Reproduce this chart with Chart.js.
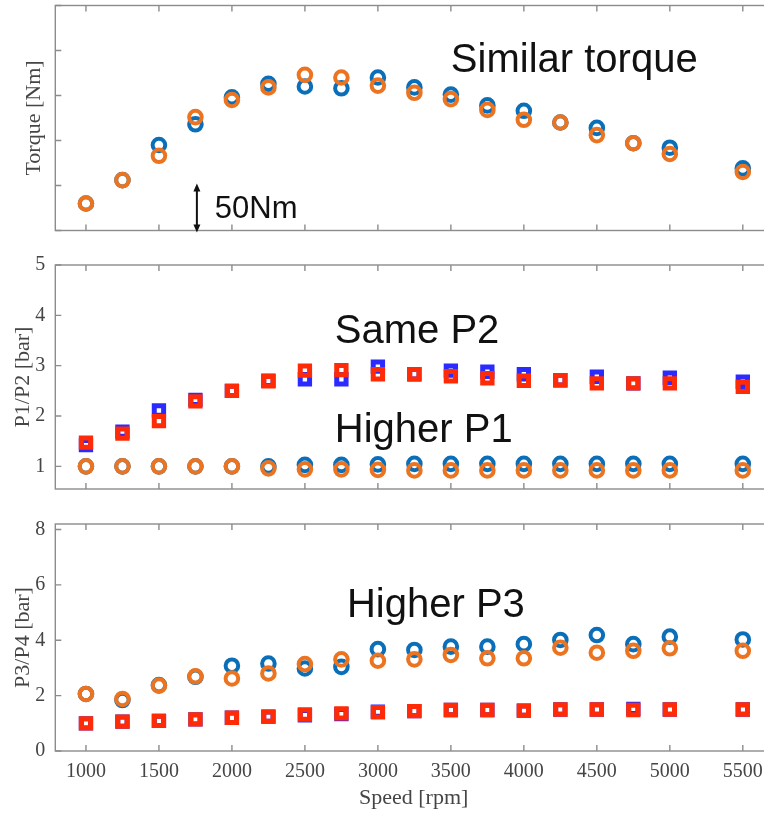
<!DOCTYPE html>
<html>
<head>
<meta charset="utf-8">
<script src="https://cdn.jsdelivr.net/npm/chart.js@4.4.1/dist/chart.umd.min.js"></script>
<style>
  html, body { margin: 0; padding: 0; overflow: hidden; background: #fff; width: 764px; height: 814px; }
  #wrap { width: 772px; height: 814px; }
  canvas { display: block; }
</style>
</head>
<body>
<div id="wrap">
  <canvas id="torque" width="772" height="250" style="width:772px;height:250px"></canvas>
  <canvas id="p12" width="772" height="250" style="width:772px;height:250px"></canvas>
  <canvas id="p34" width="772" height="314" style="width:772px;height:314px"></canvas>
</div>
<script>
// Engine speed sweep (rpm)
const speed = [1000, 1250, 1500, 1750, 2000, 2250, 2500, 2750, 3000, 3250, 3500, 3750, 4000, 4250, 4500, 4750, 5000, 5500];

// Torque [Nm]
const torqueBlue   = [80, 106, 145, 168, 198, 213, 210, 208, 220, 209, 201, 189, 183, 170, 164, 147, 142, 119];
const torqueOrange = [80, 106, 133, 176, 195, 209, 223, 220, 211, 203, 196, 184, 173, 170, 156, 147, 135, 115];

// P1 / P2 [bar]
const p1Blue   = [1.00, 1.00, 1.00, 1.00, 1.00, 1.00, 1.03, 1.03, 1.04, 1.05, 1.05, 1.05, 1.05, 1.05, 1.05, 1.05, 1.05, 1.05];
const p1Orange = [1.00, 1.00, 1.00, 1.00, 1.00, 0.96, 0.94, 0.94, 0.93, 0.92, 0.92, 0.92, 0.92, 0.92, 0.92, 0.92, 0.92, 0.92];
const p2Blue   = [1.42, 1.69, 2.11, 2.32, 2.50, 2.70, 2.73, 2.73, 2.98, 2.83, 2.90, 2.88, 2.83, 2.71, 2.78, 2.65, 2.76, 2.68];
const p2Red    = [1.47, 1.65, 1.90, 2.29, 2.50, 2.69, 2.90, 2.91, 2.83, 2.83, 2.79, 2.75, 2.70, 2.71, 2.65, 2.65, 2.65, 2.58];

// P3 / P4 [bar]
const p3Blue   = [2.06, 1.84, 2.38, 2.68, 3.08, 3.16, 2.98, 3.04, 3.68, 3.65, 3.77, 3.77, 3.86, 4.01, 4.19, 3.86, 4.13, 4.03];
const p3Orange = [2.06, 1.88, 2.36, 2.70, 2.62, 2.80, 3.14, 3.31, 3.26, 3.31, 3.47, 3.35, 3.35, 3.73, 3.55, 3.62, 3.71, 3.62];
const p4Blue   = [1.00, 1.06, 1.09, 1.14, 1.20, 1.24, 1.29, 1.33, 1.42, 1.44, 1.48, 1.48, 1.46, 1.50, 1.50, 1.52, 1.50, 1.50];
const p4Red    = [1.00, 1.06, 1.09, 1.14, 1.20, 1.24, 1.32, 1.36, 1.40, 1.44, 1.48, 1.48, 1.46, 1.50, 1.50, 1.48, 1.50, 1.50];

// Tick values
const speedTicks  = [1000, 1500, 2000, 2500, 3000, 3500, 4000, 4500, 5000, 5500];
const torqueTicks = [50, 100, 150, 200, 250, 300];
const p12Ticks    = [1, 2, 3, 4, 5];
const p34Ticks    = [0, 2, 4, 6, 8];

const BLUE = '#0a6fb8';
const ORANGE = '#ec7420';
const SQ_BLUE = '#2b2bff';
const SQ_RED = '#ff2a06';
const AXIS_GREY = '#8c8c8c';
const TEXT_GREY = '#454545';
const SERIF = '"Liberation Serif", "Times New Roman", serif';
const SANS = '"Liberation Sans", Arial, sans-serif';

const pts = vals => speed.map((s, i) => ({ x: s, y: vals[i] }));

const circle = (vals, color) => ({
  data: pts(vals), pointStyle: 'circle', pointRadius: 6.3, borderWidth: 4,
  borderColor: color, backgroundColor: 'transparent', showLine: false
});
const square = (vals, color) => ({
  data: pts(vals), pointStyle: 'rect', pointRadius: 6.6, borderWidth: 5,
  borderColor: color, backgroundColor: 'transparent', showLine: false
});

// Boxed axes with inward tick marks on all four sides
const framePlugin = {
  id: 'frame',
  beforeDatasetsDraw(chart) {
    const { ctx, chartArea: a, scales: { x, y } } = chart;
    ctx.save();
    ctx.strokeStyle = AXIS_GREY;
    ctx.lineWidth = 1.4;
    ctx.strokeRect(a.left, a.top, a.right - a.left, a.bottom - a.top);
    const len = 6;
    ctx.beginPath();
    x.ticks.forEach(t => {
      const px = x.getPixelForValue(t.value);
      ctx.moveTo(px, a.bottom); ctx.lineTo(px, a.bottom - len);
      ctx.moveTo(px, a.top); ctx.lineTo(px, a.top + len);
    });
    y.ticks.forEach(t => {
      const py = y.getPixelForValue(t.value);
      ctx.moveTo(a.left, py); ctx.lineTo(a.left + len, py);
      ctx.moveTo(a.right, py); ctx.lineTo(a.right - len, py);
    });
    ctx.stroke();
    ctx.restore();
  }
};

// Text notes placed in data coordinates, plus an optional scale arrow
function notesPlugin(items, arrow) {
  return {
    id: 'notes',
    afterDraw(chart) {
      const { ctx, scales: { x, y } } = chart;
      ctx.save();
      ctx.fillStyle = '#111';
      ctx.textAlign = 'left';
      ctx.textBaseline = 'alphabetic';
      items.forEach(n => {
        ctx.font = `${n.size}px ${SANS}`;
        ctx.fillText(n.text, x.getPixelForValue(n.x), y.getPixelForValue(n.y));
      });
      if (arrow) {
        const px = x.getPixelForValue(arrow.x);
        const yb = y.getPixelForValue(arrow.from) + 2;
        const yt = y.getPixelForValue(arrow.to) - 2;
        const hh = 8, hw = 3.5;
        ctx.strokeStyle = '#111';
        ctx.lineWidth = 2;
        ctx.beginPath();
        ctx.moveTo(px, yb - hh + 1); ctx.lineTo(px, yt + hh - 1);
        ctx.stroke();
        ctx.beginPath();
        ctx.moveTo(px, yt); ctx.lineTo(px - hw, yt + hh); ctx.lineTo(px + hw, yt + hh); ctx.closePath();
        ctx.moveTo(px, yb); ctx.lineTo(px - hw, yb - hh); ctx.lineTo(px + hw, yb - hh); ctx.closePath();
        ctx.fill();
      }
      ctx.restore();
    }
  };
}

function panel(id, o) {
  // Chart.js paints the first dataset last, so list the topmost series first
  const datasets = o.datasets.slice().reverse();
  return new Chart(document.getElementById(id), {
    type: 'scatter',
    data: { datasets },
    options: {
      responsive: false,
      animation: false,
      devicePixelRatio: 1,
      events: [],
      layout: { autoPadding: false, padding: { top: o.top, left: 0, right: 0, bottom: 0 } },
      plugins: { legend: { display: false }, tooltip: { enabled: false } },
      scales: {
        x: {
          type: 'linear', min: 790, max: 5700, bounds: 'data',
          afterBuildTicks: s => { s.ticks = speedTicks.map(v => ({ value: v })); },
          afterFit: s => { s.height = o.xHeight; s.paddingLeft = 0; s.paddingRight = 0; },
          grid: { display: false, drawTicks: false },
          border: { display: false },
          ticks: {
            display: !!o.xTitle, autoSkip: false, maxRotation: 0, padding: 9,
            color: TEXT_GREY, font: { family: SERIF, size: 20 },
            callback: v => String(v)
          },
          title: o.xTitle ? {
            display: true, text: o.xTitle, color: TEXT_GREY,
            font: { family: SERIF, size: 22 }, padding: { bottom: 3 }
          } : { display: false }
        },
        y: {
          type: 'linear', min: o.yMin, max: o.yMax, bounds: 'data',
          afterBuildTicks: s => { s.ticks = o.yTicks.map(v => ({ value: v })); },
          afterFit: s => { s.width = 55.3; s.paddingTop = 0; s.paddingBottom = 0; },
          grid: { display: false, drawTicks: false },
          border: { display: false },
          ticks: {
            display: o.yLabels, padding: 10,
            color: TEXT_GREY, font: { family: SERIF, size: 20 },
            callback: v => String(v)
          },
          title: {
            display: true, text: o.yTitle, color: TEXT_GREY,
            font: { family: SERIF, size: 22 }, padding: { top: o.yTitlePad }
          }
        }
      }
    },
    plugins: [framePlugin, notesPlugin(o.notes, o.arrow)]
  });
}

panel('torque', {
  top: 5.5, xHeight: 19.5,
  yMin: 50, yMax: 300, yTicks: torqueTicks, yLabels: false,
  yTitle: 'Torque [Nm]', yTitlePad: 21,
  datasets: [circle(torqueBlue, BLUE), circle(torqueOrange, ORANGE)],
  notes: [
    { text: 'Similar torque', x: 3500, y: 226, size: 40 },
    { text: '50Nm', x: 1883, y: 64, size: 31 }
  ],
  arrow: { x: 1760, from: 50, to: 100 }
});

panel('p12', {
  top: 15, xHeight: 11,
  yMin: 0.55, yMax: 5, yTicks: p12Ticks, yLabels: true,
  yTitle: 'P1/P2 [bar]', yTitlePad: 10,
  datasets: [
    circle(p1Blue, BLUE), circle(p1Orange, ORANGE),
    square(p2Blue, SQ_BLUE), square(p2Red, SQ_RED)
  ],
  notes: [
    { text: 'Same P2', x: 2705, y: 3.45, size: 40 },
    { text: 'Higher P1', x: 2705, y: 1.48, size: 40 }
  ]
});

panel('p34', {
  top: 24, xHeight: 63,
  yMin: 0, yMax: 8.2, yTicks: p34Ticks, yLabels: true,
  yTitle: 'P3/P4 [bar]', yTitlePad: 10,
  xTitle: 'Speed [rpm]',
  datasets: [
    circle(p3Blue, BLUE), circle(p3Orange, ORANGE),
    square(p4Blue, SQ_BLUE), square(p4Red, SQ_RED)
  ],
  notes: [
    { text: 'Higher P3', x: 2788, y: 4.84, size: 40 }
  ]
});
</script>
</body>
</html>
